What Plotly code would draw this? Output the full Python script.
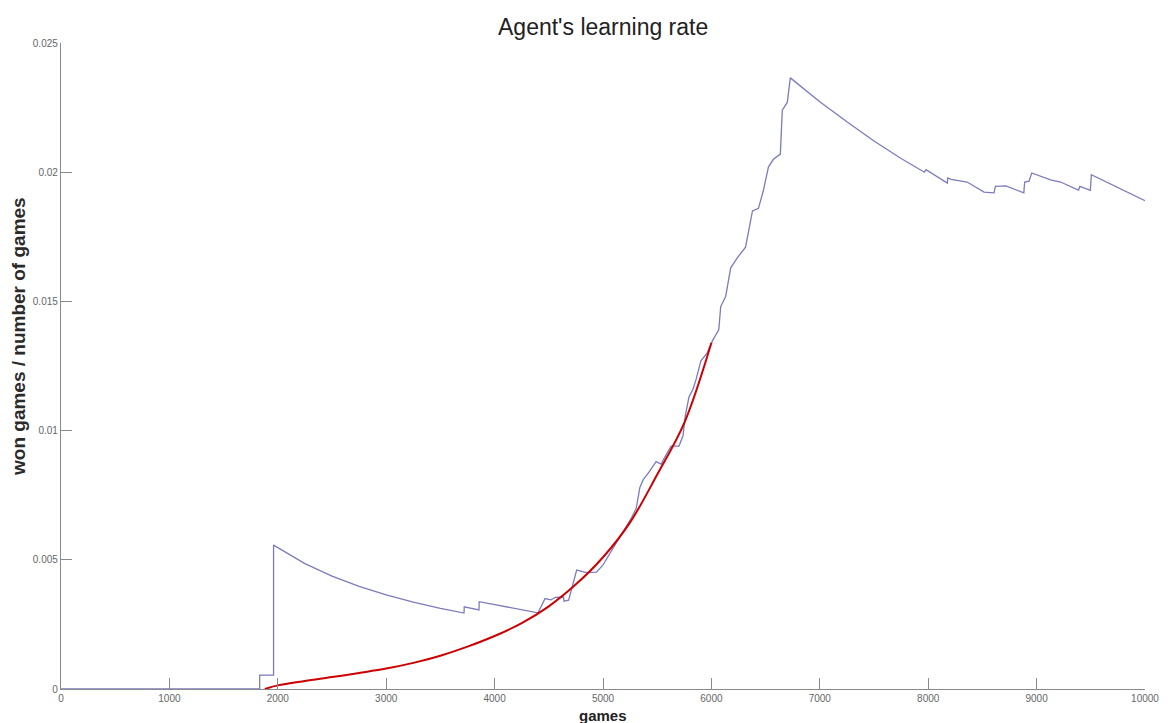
import plotly.graph_objects as go

# Win ratio of the agent (won games / number of games) against games played
games = [0, 1833, 1833, 1961, 1961, 2250, 2500, 2750, 3000, 3250, 3500, 3718, 3720,
         3856, 3858, 4100, 4400, 4466, 4520, 4560, 4636, 4640, 4683, 4757, 4849,
         4940, 5000, 5100, 5215, 5260, 5307, 5340, 5371, 5426, 5490, 5536, 5560,
         5628, 5701, 5738, 5760, 5793, 5830, 5860, 5903, 5960, 6013, 6068, 6086,
         6132, 6178, 6242, 6315, 6333, 6379, 6434, 6480, 6526, 6572, 6636, 6654,
         6700, 6728, 7000, 7250, 7500, 7750, 7965, 7980, 8176, 8180, 8212, 8359,
         8515, 8607, 8620, 8717, 8882, 8890, 8930, 8955, 9129, 9221, 9386, 9400,
         9496, 9505, 10000]
win_rate = [0, 0, 0.00054, 0.00054, 0.00557, 0.00485, 0.00437, 0.00397, 0.00364,
            0.00336, 0.00312, 0.00294, 0.00318, 0.00306, 0.00338, 0.00318, 0.00295,
            0.0035, 0.00345, 0.00355, 0.00356, 0.0034, 0.00344, 0.0046, 0.0045,
            0.00452, 0.0048, 0.0055, 0.00627, 0.0066, 0.0070, 0.0078, 0.0081,
            0.0084, 0.0088, 0.0087, 0.0089, 0.0094, 0.0094, 0.0098, 0.0106, 0.0113,
            0.0116, 0.0120, 0.0127, 0.0130, 0.0135, 0.0139, 0.0148, 0.0152, 0.0163,
            0.0167, 0.0171, 0.0175, 0.0185, 0.0186, 0.0193, 0.0202, 0.0205, 0.0207,
            0.0224, 0.0227, 0.02365, 0.02273, 0.02195, 0.02121, 0.02053, 0.0200,
            0.0201, 0.01958, 0.01978, 0.01972, 0.01962, 0.01923, 0.0192, 0.01945,
            0.01947, 0.0192, 0.01962, 0.01965, 0.01997, 0.0197, 0.01962, 0.01931,
            0.01945, 0.0193, 0.0199, 0.0189]

# Fitted growth curve over the learning phase
fit_games = [1880, 2000, 2250, 2500, 2750, 3000, 3250, 3500, 3750, 4000, 4250,
             4500, 4750, 5000, 5250, 5500, 5750, 6000]
fit_rate = [0.0, 0.00014, 0.00031, 0.00046, 0.00062, 0.00079, 0.00101, 0.00129,
            0.00164, 0.00205, 0.00255, 0.00320, 0.00405, 0.00510, 0.00645,
            0.00830, 0.01030, 0.01340]

x_ticks = [0, 1000, 2000, 3000, 4000, 5000, 6000, 7000, 8000, 9000, 10000]
y_ticks = [0, 0.005, 0.01, 0.015, 0.02, 0.025]
y_tick_text = ["0", "0.005", "0.01", "0.015", "0.02", "0.025"]

FONT = "Liberation Sans, Arial, sans-serif"

fig = go.Figure()
fig.add_trace(go.Scatter(x=games, y=win_rate, mode="lines",
                         line=dict(color="#7b7bbd", width=1.3),
                         showlegend=False))
fig.add_trace(go.Scatter(x=fit_games, y=fit_rate, mode="lines",
                         line=dict(color="#cc0000", width=2, shape="spline"),
                         showlegend=False))

axis_common = dict(showgrid=False, zeroline=False, showline=True,
                   linecolor="#8a8a8a", linewidth=1.3, ticks="inside",
                   ticklen=11, tickcolor="#8a8a8a", tickwidth=1.3,
                   tickfont=dict(family=FONT, size=10, color="#666666"),
                   mirror=False)

fig.update_layout(
    width=1171, height=723,
    paper_bgcolor="white", plot_bgcolor="white",
    margin=dict(l=61, r=19, t=43, b=34),
    xaxis=dict(range=[0, 10000], tickvals=x_ticks,
               ticktext=[str(v) for v in x_ticks], **axis_common),
    yaxis=dict(range=[0, 0.025], tickvals=y_ticks, ticktext=y_tick_text,
               **axis_common),
    annotations=[
        dict(text="Agent's learning rate", xref="paper", yref="paper",
             x=0.5, y=1, yshift=16, yanchor="middle", showarrow=False,
             font=dict(family=FONT, size=23, color="#222222")),
        dict(text="<b>games</b>", xref="paper", yref="paper",
             x=0.5, y=0, yshift=-26, yanchor="middle", showarrow=False,
             font=dict(family=FONT, size=15, color="#222222")),
        dict(text="<b>won games / number of games</b>", xref="paper",
             yref="paper", x=0, xshift=-43, y=0.5, yshift=29,
             textangle=-90, xanchor="center", yanchor="middle",
             showarrow=False,
             font=dict(family=FONT, size=19, color="#2a2a2a")),
    ],
)

fig.write_html("out.html")
